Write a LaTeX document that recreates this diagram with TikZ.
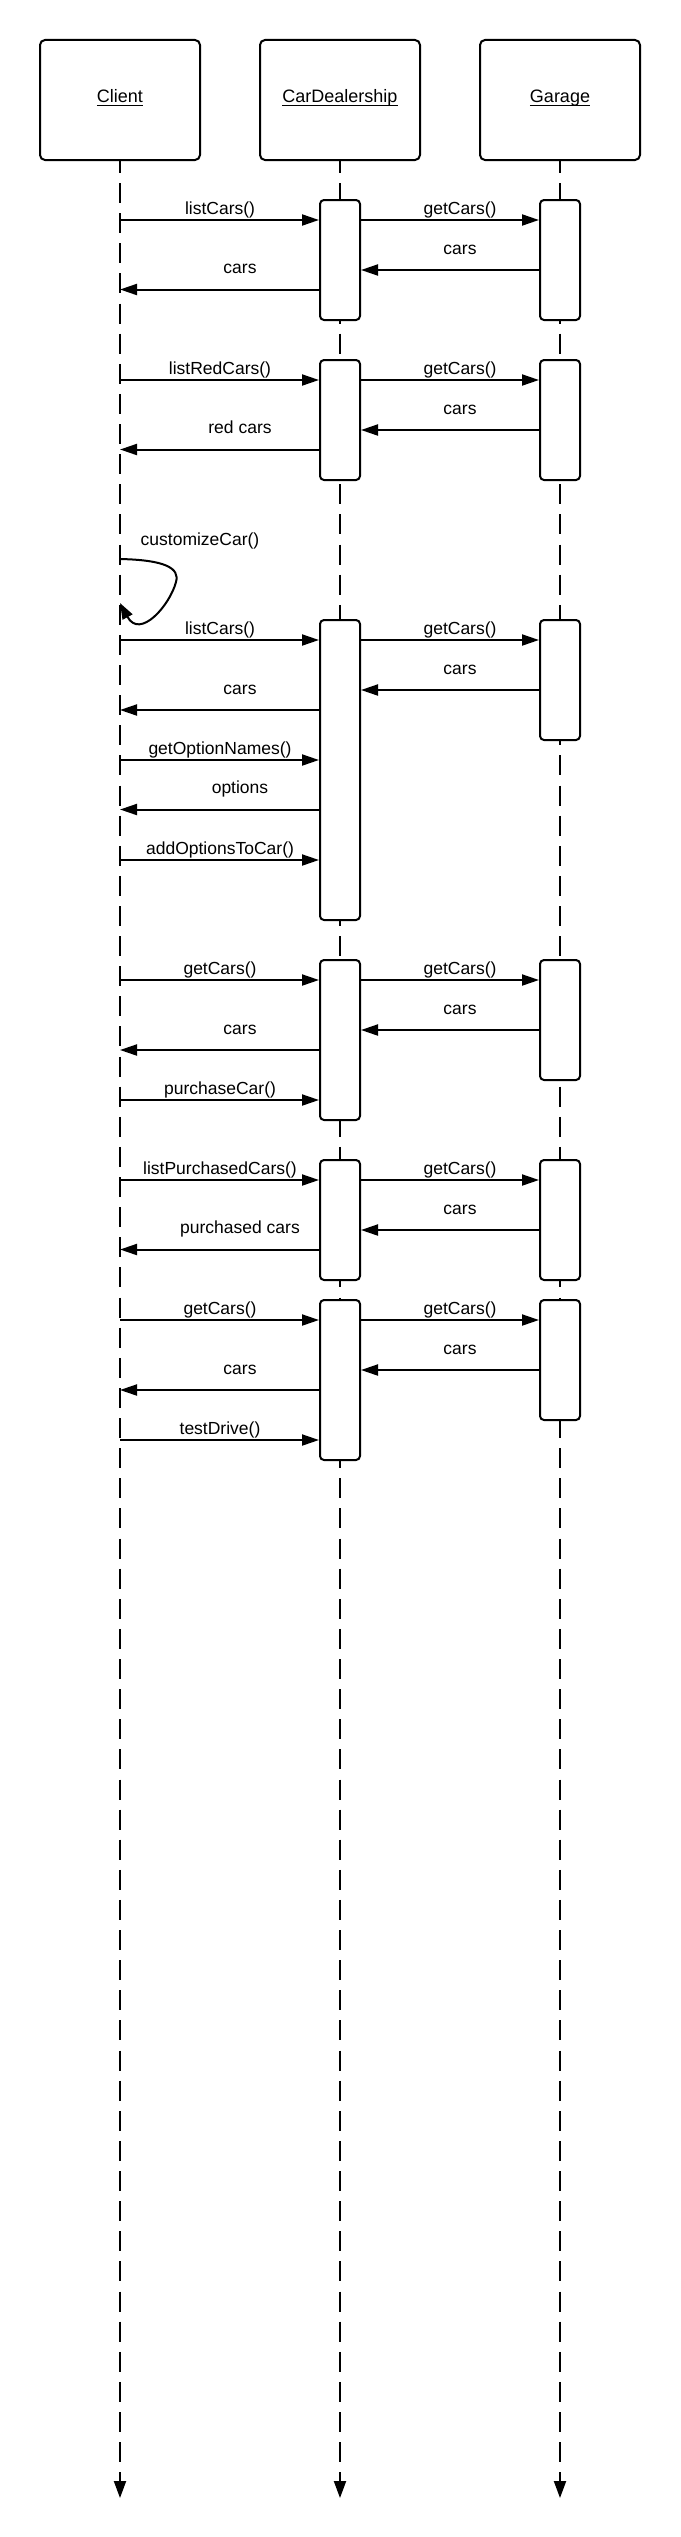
\documentclass[tikz,border=0pt]{standalone}
\usepackage{fontspec}
\setmainfont{Liberation Sans}
\usetikzlibrary{arrows.meta}
\begin{document}
\begin{tikzpicture}[x=1pt,y=-1pt,
  head/.style={draw, line width=2pt, rounded corners=5pt, minimum width=160pt, minimum height=120pt, inner sep=0pt},
  act/.style={draw, fill=white, line width=2pt, rounded corners=4pt, minimum width=40pt, inner sep=0pt},
  life/.style={line width=2pt, dash pattern=on 20pt off 10.12pt, dash phase=8pt, -{Triangle[length=17pt,width=12pt]}},
  msg/.style={line width=2pt, -{Triangle[length=17pt,width=11pt]}},
  loopmsg/.style={line width=2pt, -{Triangle[length=16pt,width=11pt]}},
  lbl/.style={font=\fontsize{17.5}{20}\selectfont, inner sep=0pt, anchor=base},
  ttl/.style={font=\fontsize{18}{21}\selectfont, inner sep=0pt, anchor=base},
  uline/.style={line width=1.6pt}
]
\useasboundingbox (0,0) rectangle (680,2537);

% heads
\node[head] (client) at (120,100) {};
\node[head] (dealer) at (340,100) {};
\node[head] (garage) at (560,100) {};
\node[ttl] (clientT) at (120,103) {Client};
\node[ttl] (dealerT) at (340,103) {CarDealership};
\node[ttl] (garageT) at (560,103) {Garage};
\draw[uline] ([yshift=-2.5pt]clientT.base west) -- ([yshift=-2.5pt]clientT.base east);
\draw[uline] ([yshift=-2.5pt]dealerT.base west) -- ([yshift=-2.5pt]dealerT.base east);
\draw[uline] ([yshift=-2.5pt]garageT.base west) -- ([yshift=-2.5pt]garageT.base east);

% lifelines
\coordinate (clientEnd) at (120,2498);
\coordinate (dealerEnd) at (340,2498);
\coordinate (garageEnd) at (560,2498);
\draw[life] (client.south) -- (clientEnd);
\draw[life] (dealer.south) -- (dealerEnd);
\draw[life] (garage.south) -- (garageEnd);

% activation boxes
\node[act, minimum height=120pt] (d1) at (340,260) {};
\node[act, minimum height=120pt] (g1) at (560,260) {};
\node[act, minimum height=120pt] (d2) at (340,420) {};
\node[act, minimum height=120pt] (g2) at (560,420) {};
\node[act, minimum height=300pt] (d3) at (340,770) {};
\node[act, minimum height=120pt] (g3) at (560,680) {};
\node[act, minimum height=160pt] (d4) at (340,1040) {};
\node[act, minimum height=120pt] (g4) at (560,1020) {};
\node[act, minimum height=120pt] (d5) at (340,1220) {};
\node[act, minimum height=120pt] (g5) at (560,1220) {};
\node[act, minimum height=160pt] (d6) at (340,1380) {};
\node[act, minimum height=120pt] (g6) at (560,1360) {};

% block 1
\draw[msg] (client.south |- 0,220) -- (d1.west |- 0,220);
\node[lbl] at (220,214) {listCars()};
\draw[msg] (d1.east |- 0,220) -- (g1.west |- 0,220);
\node[lbl] at (460,214) {getCars()};
\draw[msg] (g1.west |- 0,270) -- (d1.east |- 0,270);
\node[lbl] at (460,254) {cars};
\draw[msg] (d1.west |- 0,289.5) -- (client.south |- 0,289.5);
\node[lbl] at (240,273.5) {cars};

% block 2
\draw[msg] (client.south |- 0,380) -- (d2.west |- 0,380);
\node[lbl] at (220,374) {listRedCars()};
\draw[msg] (d2.east |- 0,380) -- (g2.west |- 0,380);
\node[lbl] at (460,374) {getCars()};
\draw[msg] (g2.west |- 0,430) -- (d2.east |- 0,430);
\node[lbl] at (460,414) {cars};
\draw[msg] (d2.west |- 0,449.5) -- (client.south |- 0,449.5);
\node[lbl] at (240,433.5) {red cars};

% self call
\draw[loopmsg] (client.south |- 0,559) .. controls (165,560) and (180,568) .. (176,582)
  .. controls (170,605) and (140,640) .. (client.south |- 0,603);
\node[lbl] at (200,545) {customizeCar()};

% block 3
\draw[msg] (client.south |- 0,640) -- (d3.west |- 0,640);
\node[lbl] at (220,634) {listCars()};
\draw[msg] (d3.east |- 0,640) -- (g3.west |- 0,640);
\node[lbl] at (460,634) {getCars()};
\draw[msg] (g3.west |- 0,690) -- (d3.east |- 0,690);
\node[lbl] at (460,674) {cars};
\draw[msg] (d3.west |- 0,710) -- (client.south |- 0,710);
\node[lbl] at (240,694) {cars};
\draw[msg] (client.south |- 0,760) -- (d3.west |- 0,760);
\node[lbl] at (220,754) {getOptionNames()};
\draw[msg] (d3.west |- 0,809.5) -- (client.south |- 0,809.5);
\node[lbl] at (240,793.5) {options};
\draw[msg] (client.south |- 0,860) -- (d3.west |- 0,860);
\node[lbl] at (220,854) {addOptionsToCar()};

% block 4
\draw[msg] (client.south |- 0,980) -- (d4.west |- 0,980);
\node[lbl] at (220,974) {getCars()};
\draw[msg] (d4.east |- 0,980) -- (g4.west |- 0,980);
\node[lbl] at (460,974) {getCars()};
\draw[msg] (g4.west |- 0,1030) -- (d4.east |- 0,1030);
\node[lbl] at (460,1014) {cars};
\draw[msg] (d4.west |- 0,1050) -- (client.south |- 0,1050);
\node[lbl] at (240,1034) {cars};
\draw[msg] (client.south |- 0,1100) -- (d4.west |- 0,1100);
\node[lbl] at (220,1094) {purchaseCar()};

% block 5
\draw[msg] (client.south |- 0,1180) -- (d5.west |- 0,1180);
\node[lbl] at (220,1174) {listPurchasedCars()};
\draw[msg] (d5.east |- 0,1180) -- (g5.west |- 0,1180);
\node[lbl] at (460,1174) {getCars()};
\draw[msg] (g5.west |- 0,1230) -- (d5.east |- 0,1230);
\node[lbl] at (460,1214) {cars};
\draw[msg] (d5.west |- 0,1249.5) -- (client.south |- 0,1249.5);
\node[lbl] at (240,1233.5) {purchased cars};

% block 6
\draw[msg] (client.south |- 0,1320) -- (d6.west |- 0,1320);
\node[lbl] at (220,1314) {getCars()};
\draw[msg] (d6.east |- 0,1320) -- (g6.west |- 0,1320);
\node[lbl] at (460,1314) {getCars()};
\draw[msg] (g6.west |- 0,1370) -- (d6.east |- 0,1370);
\node[lbl] at (460,1354) {cars};
\draw[msg] (d6.west |- 0,1390) -- (client.south |- 0,1390);
\node[lbl] at (240,1374) {cars};
\draw[msg] (client.south |- 0,1440) -- (d6.west |- 0,1440);
\node[lbl] at (220,1434) {testDrive()};
\end{tikzpicture}
\end{document}
